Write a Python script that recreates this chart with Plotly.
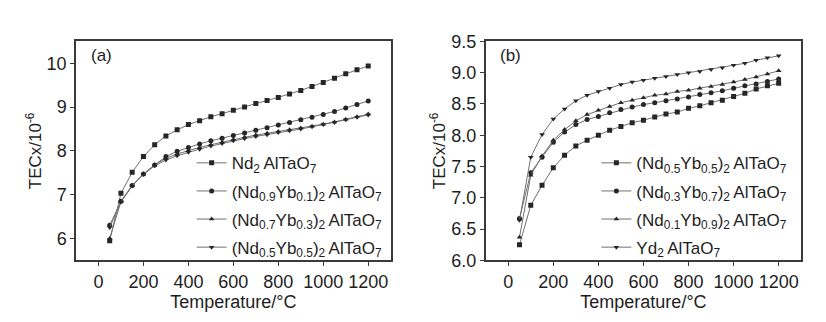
import plotly.graph_objects as go
from plotly.subplots import make_subplots

# Temperature points (°C)
temperature = [50, 100, 150, 200, 250, 300, 350, 400, 450, 500, 550, 600,
               650, 700, 750, 800, 850, 900, 950, 1000, 1050, 1100, 1150, 1200]

# (a) TECx values, 10^-6
nd2 = [5.95, 7.03, 7.51, 7.87, 8.14, 8.34, 8.48, 8.60, 8.69, 8.78, 8.85, 8.93,
       9.00, 9.08, 9.15, 9.22, 9.30, 9.38, 9.47, 9.56, 9.66, 9.76, 9.85, 9.94]
nd09 = [6.30, 6.85, 7.21, 7.47, 7.68, 7.87, 7.99, 8.08, 8.16, 8.23, 8.29, 8.35,
        8.41, 8.47, 8.53, 8.59, 8.65, 8.71, 8.77, 8.83, 8.90, 8.98, 9.06, 9.14]
nd07 = [6.00, 6.84, 7.21, 7.47, 7.68, 7.83, 7.93, 8.01, 8.08, 8.14, 8.20, 8.26,
        8.31, 8.36, 8.40, 8.44, 8.48, 8.52, 8.56, 8.61, 8.66, 8.72, 8.78, 8.84]
nd05a = [6.25, 6.83, 7.20, 7.46, 7.66, 7.79, 7.89, 7.97, 8.04, 8.11, 8.17, 8.23,
         8.28, 8.33, 8.37, 8.42, 8.46, 8.50, 8.55, 8.60, 8.65, 8.71, 8.77, 8.82]

# (b) TECx values, 10^-6
nd05b = [6.25, 6.88, 7.20, 7.48, 7.68, 7.83, 7.92, 8.00, 8.08, 8.14, 8.20, 8.24,
         8.29, 8.34, 8.37, 8.43, 8.47, 8.52, 8.56, 8.62, 8.67, 8.74, 8.79, 8.83]
nd03 = [6.67, 7.40, 7.65, 7.89, 8.05, 8.17, 8.25, 8.30, 8.36, 8.41, 8.45, 8.49,
        8.52, 8.55, 8.58, 8.61, 8.65, 8.68, 8.71, 8.75, 8.79, 8.82, 8.86, 8.90]
nd01 = [6.37, 7.36, 7.67, 7.92, 8.09, 8.23, 8.33, 8.40, 8.46, 8.52, 8.56, 8.60,
        8.64, 8.66, 8.70, 8.72, 8.75, 8.78, 8.81, 8.85, 8.89, 8.93, 8.98, 9.03]
yd2 = [6.64, 7.65, 8.01, 8.26, 8.42, 8.55, 8.64, 8.70, 8.75, 8.81, 8.85, 8.88,
       8.91, 8.94, 8.97, 9.00, 9.02, 9.05, 9.08, 9.12, 9.15, 9.20, 9.24, 9.27]

THIN = "\u2009"
names_a = ["Nd<sub>2</sub>" + THIN + "AlTaO<sub>7</sub>",
           "(Nd<sub>0.9</sub>Yb<sub>0.1</sub>)<sub>2</sub>" + THIN + "AlTaO<sub>7</sub>",
           "(Nd<sub>0.7</sub>Yb<sub>0.3</sub>)<sub>2</sub>" + THIN + "AlTaO<sub>7</sub>",
           "(Nd<sub>0.5</sub>Yb<sub>0.5</sub>)<sub>2</sub>" + THIN + "AlTaO<sub>7</sub>"]
names_b = ["(Nd<sub>0.5</sub>Yb<sub>0.5</sub>)<sub>2</sub>" + THIN + "AlTaO<sub>7</sub>",
           "(Nd<sub>0.3</sub>Yb<sub>0.7</sub>)<sub>2</sub>" + THIN + "AlTaO<sub>7</sub>",
           "(Nd<sub>0.1</sub>Yb<sub>0.9</sub>)<sub>2</sub>" + THIN + "AlTaO<sub>7</sub>",
           "Yd<sub>2</sub>" + THIN + "AlTaO<sub>7</sub>"]
symbols = ["square", "circle", "triangle-up", "triangle-down"]

FONT = "Liberation Sans, Arial, sans-serif"
LINE = "#707070"
MARK = "#262626"
FRAME = "#3a3a3a"
TEXT = "#1e1e1e"

fig = make_subplots(rows=1, cols=2)

for name, ys, sym in zip(names_a, [nd2, nd09, nd07, nd05a], symbols):
    fig.add_trace(go.Scatter(
        x=temperature, y=ys, name=name, mode="lines+markers",
        line=dict(color=LINE, width=1),
        marker=dict(symbol=sym, size=5, color=MARK),
        legend="legend", legendgroup=name + "a"), row=1, col=1)

for name, ys, sym in zip(names_b, [nd05b, nd03, nd01, yd2], symbols):
    fig.add_trace(go.Scatter(
        x=temperature, y=ys, name=name, mode="lines+markers",
        line=dict(color=LINE, width=1),
        marker=dict(symbol=sym, size=5, color=MARK),
        legend="legend2", legendgroup=name + "b"), row=1, col=2)

axis_common = dict(showline=True, linecolor=FRAME, linewidth=1.5, mirror=True,
                   showgrid=False, zeroline=False, ticks="outside", ticklen=4,
                   tickcolor=FRAME, tickfont=dict(family=FONT, size=18, color=TEXT))

fig.update_xaxes(range=[-100, 1300], tickvals=[0, 200, 400, 600, 800, 1000, 1200],
                 title=dict(text="Temperature/°C", font=dict(family=FONT, size=18, color=TEXT),
                            standoff=5),
                 **axis_common)
fig.update_xaxes(domain=[0.092, 0.473], row=1, col=1)
fig.update_xaxes(domain=[0.588, 0.970], row=1, col=2)

ytitle = dict(text="TECx/10<sup>-6</sup>", font=dict(family=FONT, size=17, color=TEXT),
              standoff=1)
fig.update_yaxes(range=[5.5, 10.5], tickvals=[6, 7, 8, 9, 10], title=ytitle,
                 domain=[0.171, 0.896], row=1, col=1, **axis_common)
fig.update_yaxes(range=[6.0, 9.5], tickvals=[6.0, 6.5, 7.0, 7.5, 8.0, 8.5, 9.0, 9.5],
                 tickformat=".1f", title=ytitle,
                 domain=[0.171, 0.896], row=1, col=2, **axis_common)

legend_common = dict(font=dict(family=FONT, size=17, color=TEXT),
                     bgcolor="rgba(0,0,0,0)", itemwidth=30,
                     xanchor="left", yanchor="top", tracegroupgap=3)

fig.update_layout(
    width=826, height=322,
    margin=dict(l=0, r=0, t=0, b=0),
    paper_bgcolor="white", plot_bgcolor="white",
    font=dict(family=FONT, color=TEXT),
    showlegend=True,
    legend=dict(x=0.232, y=0.552, **legend_common),
    legend2=dict(x=0.722, y=0.552, **legend_common),
    annotations=[
        dict(text="(a)", xref="x domain", yref="y domain", x=0.04, y=0.935,
             xanchor="left", yanchor="middle", showarrow=False,
             font=dict(family=FONT, size=17, color=TEXT)),
        dict(text="(b)", xref="x2 domain", yref="y2 domain", x=0.04, y=0.935,
             xanchor="left", yanchor="middle", showarrow=False,
             font=dict(family=FONT, size=17, color=TEXT)),
    ],
)

fig.write_html("out.html")
